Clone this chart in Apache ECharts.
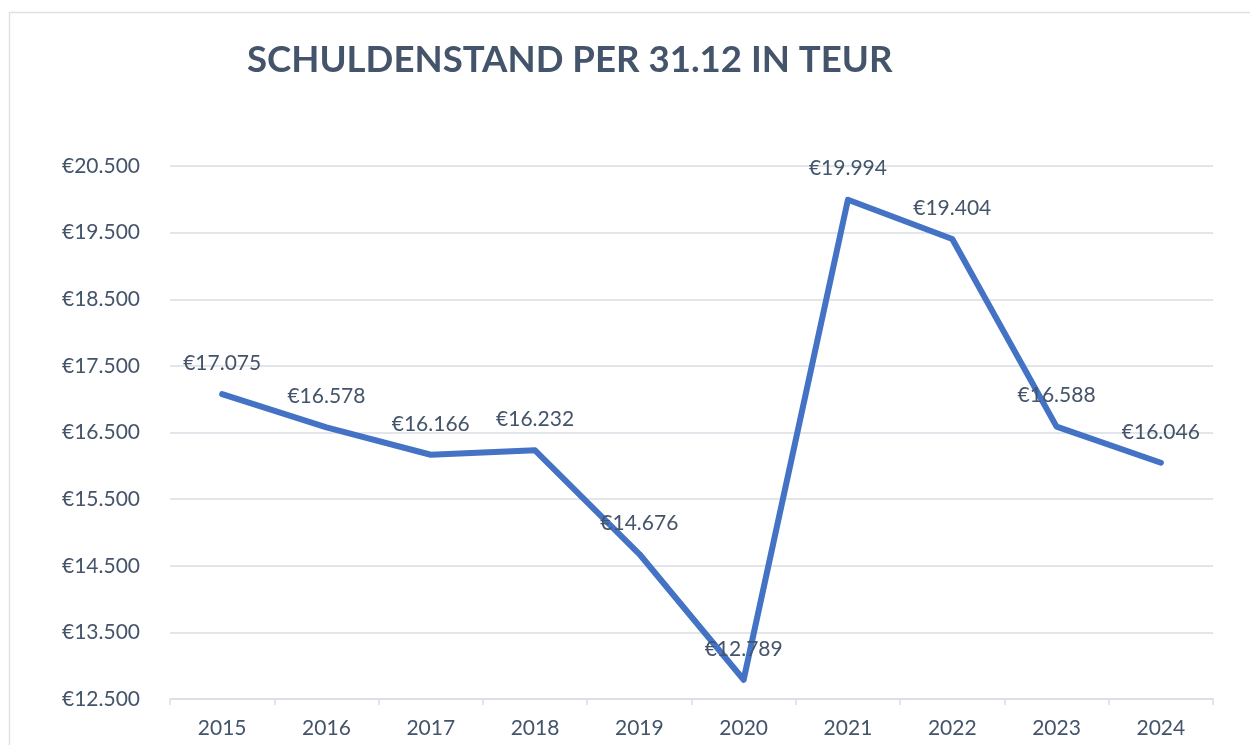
<!DOCTYPE html>
<html>
<head>
<meta charset="utf-8">
<script src="https://cdn.jsdelivr.net/npm/echarts@6/dist/echarts.min.js"></script>
<style>html,body{margin:0;padding:0;background:#fff;}#c{width:1250px;height:745px;}</style>
</head>
<body>
<div id="c"></div>
<script>
const titleText = 'SCHULDENSTAND PER 31.12 IN TEUR';
const categories = ['2015','2016','2017','2018','2019','2020','2021','2022','2023','2024'];
const values = [17075, 16578, 16166, 16232, 14676, 12789, 19994, 19404, 16588, 16046];
const yMin = 12500, yMax = 20500, yStep = 1000;

function euro(v){
  const s = Math.round(v).toString();
  return '€' + s.replace(/\B(?=(\d{3})+(?!\d))/g, '.');
}
const textColor = '#44546A';
const gridColor = '#D9DEE5';
const chart = echarts.init(document.getElementById('c'), null, {renderer:'canvas'});
chart.setOption({
  backgroundColor:'#fff',
  animation:false,
  graphic:[{type:'rect', shape:{x:9.5,y:12.5,width:1400,height:900}, style:{fill:null, stroke:'#DDE1E7', lineWidth:1.5}, silent:true}],
  title:{text:titleText, left:242, top:37, textStyle:{fontFamily:'Lato', fontWeight:'bold', fontSize:36.6, color:textColor}},
  grid:{left:170, right:37, top:166, bottom:46, containLabel:false},
  xAxis:{type:'category', data:categories, boundaryGap:true,
    axisLine:{lineStyle:{color:gridColor, width:1.5}},
    axisTick:{show:true, length:6, lineStyle:{color:gridColor, width:1.5}},
    axisLabel:{color:textColor, fontFamily:'Lato', fontSize:21, margin:19}},
  yAxis:{type:'value', min:yMin, max:yMax, interval:yStep,
    axisLine:{show:false}, axisTick:{show:false},
    splitLine:{lineStyle:{color:gridColor, width:1.5}},
    axisLabel:{color:textColor, fontFamily:'Lato', fontSize:21, margin:30, formatter:euro}},
  series:[{type:'line', data:values, symbol:'circle', symbolSize:1, showSymbol:true,
    itemStyle:{color:'#4472C4'},
    lineStyle:{color:'#4472C4', width:6, join:'round', cap:'round'},
    label:{show:true, position:'top', distance:20, color:textColor, fontFamily:'Lato', fontSize:21, formatter:p=>euro(p.value)}}]
});
</script>
</body>
</html>
